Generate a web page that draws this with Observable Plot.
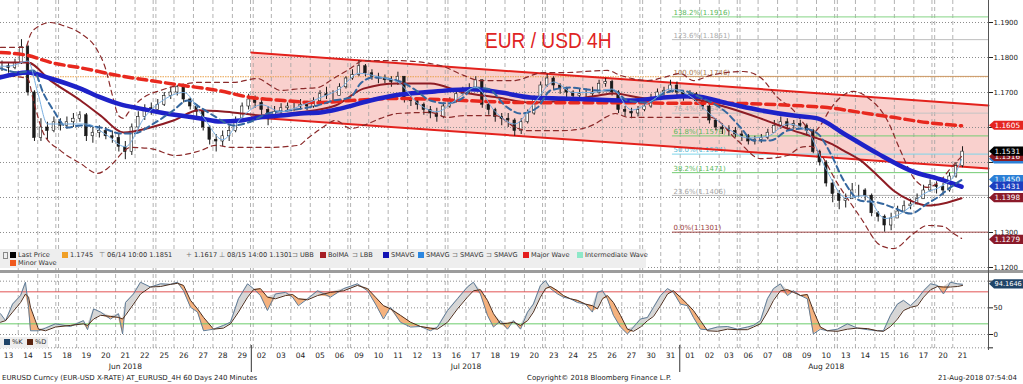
<!DOCTYPE html>
<html><head><meta charset="utf-8">
<script src="https://cdn.jsdelivr.net/npm/d3@7"></script>
<script src="https://cdn.jsdelivr.net/npm/@observablehq/plot@0.6"></script>
<style>
body{margin:0;background:#fff;}
#wrap{position:relative;width:1023px;height:384px;overflow:hidden;font-family:"DejaVu Sans",sans-serif;background:#fff;color:#222;}
.abs{position:absolute;white-space:nowrap;}
</style></head><body><div id="wrap"></div>
<script>
// ---------------- DATA ----------------
const dates = ["2018-06-13","2018-06-14","2018-06-15","2018-06-18","2018-06-19","2018-06-20","2018-06-21","2018-06-22","2018-06-25","2018-06-26","2018-06-27","2018-06-28","2018-06-29",
"2018-07-02","2018-07-03","2018-07-04","2018-07-05","2018-07-06","2018-07-09","2018-07-10","2018-07-11","2018-07-12","2018-07-13","2018-07-16","2018-07-17","2018-07-18","2018-07-19","2018-07-20","2018-07-23","2018-07-24","2018-07-25","2018-07-26","2018-07-27","2018-07-30","2018-07-31",
"2018-08-01","2018-08-02","2018-08-03","2018-08-06","2018-08-07","2018-08-08","2018-08-09","2018-08-10","2018-08-13","2018-08-14","2018-08-15","2018-08-16","2018-08-17","2018-08-20","2018-08-21"];
const monthNames = {"06":"Jun 2018","07":"Jul 2018","08":"Aug 2018"};

// 8-hour bars (3 per trading day), closes / highs / lows
const closes = [
1.1775,1.1770,1.1785, 1.1830,1.1700,1.1570, 1.1600,1.1590,1.1615, 1.1605,1.1615,1.1625, 1.1635,1.1575,1.1585,
1.1590,1.1575,1.1570, 1.1545,1.1530,1.1600, 1.1630,1.1655,1.1650, 1.1665,1.1690,1.1700, 1.1715,1.1680,1.1660,
1.1645,1.1600,1.1565, 1.1560,1.1575,1.1590, 1.1620,1.1660,1.1680, 1.1670,1.1650,1.1635, 1.1645,1.1655,1.1660,
1.1660,1.1665,1.1660, 1.1675,1.1695,1.1690, 1.1690,1.1715,1.1740, 1.1750,1.1775,1.1755, 1.1745,1.1740,1.1735,
1.1730,1.1745,1.1680, 1.1675,1.1665,1.1650, 1.1640,1.1630,1.1660, 1.1675,1.1695,1.1705, 1.1710,1.1735,1.1665,
1.1650,1.1630,1.1625, 1.1620,1.1590,1.1615, 1.1640,1.1680,1.1720, 1.1740,1.1720,1.1710, 1.1700,1.1690,1.1695,
1.1695,1.1700,1.1725, 1.1730,1.1700,1.1650, 1.1645,1.1640,1.1650, 1.1660,1.1685,1.1700, 1.1705,1.1720,1.1700,
1.1690,1.1695,1.1675, 1.1660,1.1620,1.1600, 1.1595,1.1590,1.1580, 1.1575,1.1560,1.1565, 1.1570,1.1585,1.1605,
1.1615,1.1605,1.1610, 1.1605,1.1590,1.1530, 1.1500,1.1440,1.1410, 1.1390,1.1395,1.1420, 1.1420,1.1405,1.1355,
1.1345,1.1320,1.1340, 1.1360,1.1375,1.1380, 1.1395,1.1420,1.1435, 1.1430,1.1420,1.1460, 1.1490,1.1531];
const highs = [
1.1790,1.1785,1.1795, 1.1851,1.1835,1.1705, 1.1625,1.1615,1.1630, 1.1625,1.1630,1.1640, 1.1645,1.1640,1.1600,
1.1605,1.1600,1.1590, 1.1580,1.1560,1.1610, 1.1645,1.1665,1.1670, 1.1680,1.1700,1.1715, 1.1720,1.1718,1.1685,
1.1665,1.1650,1.1605, 1.1580,1.1590,1.1605, 1.1630,1.1670,1.1695, 1.1690,1.1680,1.1660, 1.1660,1.1668,1.1670,
1.1675,1.1680,1.1675, 1.1685,1.1705,1.1715, 1.1705,1.1725,1.1745, 1.1765,1.1791,1.1780, 1.1765,1.1755,1.1750,
1.1745,1.1758,1.1745, 1.1690,1.1680,1.1670, 1.1660,1.1655,1.1670, 1.1685,1.1705,1.1715, 1.1725,1.1745,1.1735,
1.1670,1.1655,1.1640, 1.1640,1.1625,1.1625, 1.1650,1.1690,1.1730, 1.1752,1.1745,1.1725, 1.1715,1.1705,1.1710,
1.1710,1.1715,1.1735, 1.1740,1.1735,1.1705, 1.1660,1.1655,1.1660, 1.1670,1.1695,1.1710, 1.1715,1.1735,1.1730,
1.1705,1.1705,1.1700, 1.1680,1.1665,1.1625, 1.1610,1.1605,1.1600, 1.1590,1.1580,1.1575, 1.1580,1.1595,1.1620,
1.1630,1.1625,1.1620, 1.1620,1.1610,1.1595, 1.1535,1.1505,1.1450, 1.1420,1.1410,1.1440, 1.1435,1.1425,1.1410,
1.1360,1.1350,1.1355, 1.1375,1.1390,1.1395, 1.1410,1.1435,1.1450, 1.1445,1.1440,1.1470, 1.1500,1.1545];
const lows = [
1.1760,1.1755,1.1765, 1.1780,1.1690,1.1560, 1.1560,1.1565,1.1585, 1.1590,1.1595,1.1600, 1.1615,1.1560,1.1555,
1.1570,1.1565,1.1555, 1.1530,1.1508,1.1520, 1.1595,1.1620,1.1635, 1.1645,1.1660,1.1680, 1.1690,1.1670,1.1650,
1.1630,1.1590,1.1550, 1.1530,1.1545,1.1560, 1.1585,1.1615,1.1650, 1.1655,1.1635,1.1605, 1.1625,1.1635,1.1645,
1.1645,1.1650,1.1648, 1.1655,1.1670,1.1680, 1.1675,1.1690,1.1710, 1.1735,1.1745,1.1745, 1.1735,1.1725,1.1725,
1.1715,1.1720,1.1670, 1.1660,1.1650,1.1635, 1.1625,1.1615,1.1625, 1.1655,1.1670,1.1690, 1.1695,1.1705,1.1655,
1.1635,1.1615,1.1605, 1.1600,1.1575,1.1580, 1.1610,1.1635,1.1675, 1.1715,1.1705,1.1695, 1.1685,1.1675,1.1680,
1.1680,1.1685,1.1695, 1.1715,1.1690,1.1640, 1.1630,1.1625,1.1630, 1.1645,1.1655,1.1680, 1.1690,1.1700,1.1690,
1.1675,1.1680,1.1665, 1.1650,1.1610,1.1590, 1.1580,1.1575,1.1570, 1.1560,1.1550,1.1550, 1.1555,1.1565,1.1585,
1.1595,1.1590,1.1595, 1.1595,1.1575,1.1525, 1.1490,1.1430,1.1385, 1.1365,1.1370,1.1395, 1.1400,1.1390,1.1345,
1.1330,1.1301,1.1305, 1.1340,1.1355,1.1365, 1.1380,1.1395,1.1415, 1.1410,1.1405,1.1415, 1.1455,1.1485];

// indicator lines: [trading-day index, value]
const smaLong = [[-0.41,1.1814],[0.98,1.1806],[2.16,1.1786],[3.85,1.1769],[5.60,1.1749],[7.29,1.1734],[8.99,1.1720],[10.73,1.1706],[12.43,1.1686],[14.12,1.1677],[15.87,1.1671],[17.57,1.1677],[19.98,1.1683],[23.37,1.1677],[26.81,1.1671],[31.95,1.1671],[34.51,1.1669],[36.93,1.1669],[40.32,1.1663],[42.06,1.1657],[43.76,1.1643],[45.45,1.1629],[47.20,1.1614],[48.95,1.1605]];
const smaThick = [[-0.41,1.1743],[0.98,1.1757],[2.16,1.1740],[3.70,1.1711],[4.73,1.1686],[5.75,1.1666],[6.78,1.1654],[7.81,1.1643],[8.83,1.1634],[9.86,1.1626],[10.89,1.1617],[11.92,1.1620],[12.94,1.1629],[13.97,1.1634],[15.00,1.1640],[16.02,1.1643],[17.05,1.1654],[18.59,1.1677],[20.13,1.1694],[21.9,1.1703],[23.73,1.1709],[25.3,1.1700],[26.81,1.1686],[28.50,1.1683],[31.95,1.1677],[33.64,1.1686],[35.18,1.1689],[36.93,1.1669],[38.62,1.1649],[40.32,1.1634],[41.55,1.1626],[42.89,1.1583],[44.63,1.1526],[46.33,1.1477],[48.02,1.1449],[48.95,1.1431]];
const smaDashed = [[-0.41,1.1769],[0.62,1.1757],[1.28,1.1763],[1.80,1.1697],[2.31,1.1649],[3.03,1.1600],[3.70,1.1606],[4.73,1.1600],[5.75,1.1583],[6.42,1.1583],[7.45,1.1611],[8.47,1.1649],[9.19,1.1677],[9.86,1.1657],[10.53,1.1634],[11.56,1.1606],[12.58,1.1620],[13.30,1.1640],[14.48,1.1649],[15.87,1.1663],[16.69,1.1677],[17.57,1.1686],[18.08,1.1726],[18.75,1.1743],[19.98,1.1734],[20.80,1.1711],[21.67,1.1677],[22.55,1.1669],[23.37,1.1686],[23.88,1.1714],[24.60,1.1711],[25.63,1.1657],[26.30,1.1640],[27.17,1.1657],[27.84,1.1706],[28.86,1.1714],[30.25,1.1706],[31.07,1.1706],[31.79,1.1677],[32.82,1.1671],[33.64,1.1697],[34.51,1.1706],[35.54,1.1686],[36.93,1.1640],[37.60,1.1600],[38.26,1.1563],[39.14,1.1563],[40.01,1.1591],[40.83,1.1597],[41.55,1.1583],[42.22,1.1526],[42.89,1.1449],[43.76,1.1391],[44.63,1.1386],[45.45,1.1371],[46.33,1.1354],[47.20,1.1383],[47.71,1.1400],[48.38,1.1429],[48.95,1.1450]];
const smaShort = [[-0.41,1.1775],[0,1.1775],[1,1.1790],[1.5,1.1700],[2,1.1610],[3,1.1610],[4,1.1610],[5,1.1580],[6,1.1545],[7,1.1630],[8,1.1680],[9,1.1700],[10,1.1630],[11,1.1565],[12,1.1630],[13,1.1665],[14,1.1645],[15,1.1662],[16,1.1685],[17,1.1710],[18,1.1755],[19,1.1745],[20,1.1730],[21,1.1670],[22,1.1645],[23,1.1680],[24,1.1715],[25,1.1645],[26,1.1610],[27,1.1670],[28,1.1730],[29,1.1700],[30,1.1700],[31,1.1710],[32,1.1650],[33,1.1675],[34,1.1710],[35,1.1690],[36,1.1640],[37,1.1595],[38,1.1570],[39,1.1575],[40,1.1610],[41,1.1590],[42,1.1480],[43,1.1400],[44,1.1405],[45,1.1340],[46,1.1360],[47,1.1410],[48,1.1435],[48.6,1.1465],[48.95,1.1509]];
const bolMA = [[-0.41,1.1786],[0.98,1.1786],[2.16,1.1734],[3.70,1.1677],[4.73,1.1634],[5.91,1.1586],[7.29,1.1600],[8.47,1.1620],[9.76,1.1649],[11.50,1.1643],[13.20,1.1634],[14.89,1.1643],[16.80,1.1663],[18.23,1.1711],[19.98,1.1726],[21.67,1.1726],[23.37,1.1700],[25.12,1.1686],[26.81,1.1671],[28.50,1.1677],[30.25,1.1691],[31.07,1.1697],[32.82,1.1683],[34.51,1.1691],[35.18,1.1683],[36.93,1.1657],[38.62,1.1626],[40.32,1.1591],[41.55,1.1569],[42.24,1.1554],[42.89,1.1534],[43.76,1.1506],[44.63,1.1463],[45.45,1.1420],[46.33,1.1391],[47.20,1.1377],[48.02,1.1383],[48.95,1.1398]];
const bbUpper = [[-0.41,1.1829],[0.87,1.1829],[1.13,1.1866],[1.54,1.1889],[2.16,1.1900],[2.82,1.1891],[3.70,1.1869],[4.57,1.1820],[4.98,1.1769],[5.34,1.1691],[5.65,1.1634],[5.91,1.1626],[6.16,1.1643],[6.52,1.1666],[7.03,1.1689],[7.81,1.1706],[8.68,1.1720],[9.86,1.1729],[11.56,1.1729],[12.79,1.1740],[13.45,1.1720],[13.97,1.1706],[15.00,1.1711],[15.87,1.1714],[16.69,1.1740],[17.57,1.1769],[18.23,1.1791],[19.98,1.1791],[22.19,1.1777],[23.37,1.1749],[24.24,1.1734],[25.94,1.1734],[27.48,1.1757],[28.50,1.1757],[30.76,1.1763],[31.43,1.1749],[32.82,1.1734],[33.64,1.1743],[34.51,1.1754],[35.18,1.1734],[36.06,1.1749],[37.75,1.1760],[38.62,1.1743],[39.50,1.1686],[40.32,1.1649],[40.93,1.1606],[41.34,1.1586],[41.70,1.1606],[42.22,1.1654],[42.73,1.1686],[43.40,1.1703],[44.12,1.1686],[45.14,1.1620],[45.81,1.1534],[46.48,1.1457],[47.20,1.1429],[47.87,1.1449],[48.38,1.1483],[48.95,1.1517]];
const bbLower = [[-0.41,1.1749],[0.98,1.1740],[1.28,1.1677],[1.80,1.1583],[2.67,1.1534],[3.70,1.1497],[4.57,1.1469],[5.08,1.1483],[5.50,1.1506],[5.86,1.1529],[6.27,1.1543],[7.29,1.1540],[8.58,1.1520],[9.86,1.1534],[10.63,1.1549],[11.50,1.1543],[13.20,1.1543],[14.89,1.1549],[15.41,1.1571],[16.13,1.1600],[16.80,1.1620],[17.57,1.1597],[18.23,1.1606],[19.11,1.1626],[19.98,1.1640],[21.67,1.1643],[22.55,1.1629],[23.37,1.1634],[25.01,1.1634],[26.04,1.1600],[26.71,1.1591],[28.45,1.1591],[29.48,1.1597],[30.15,1.1611],[30.66,1.1629],[31.17,1.1640],[31.84,1.1629],[33.74,1.1629],[36.06,1.1629],[37.44,1.1563],[38.62,1.1511],[40.01,1.1520],[40.68,1.1543],[41.19,1.1546],[41.55,1.1534],[42.58,1.1440],[43.76,1.1343],[44.79,1.1263],[45.45,1.1254],[46.48,1.1297],[47.20,1.1320],[48.02,1.1317],[48.54,1.1297],[48.95,1.1283]];

// regression channel anchors
const channelDays = [12.48, 50.334];
const channelUpper = [1.1814, 1.1663];
const channelLower = [1.1629, 1.1483];

// Fibonacci retracement (0% = 1.1301, 100% = 1.1746)
const fibStartDay = 34.1;
const fibLabels = ["138.2%(1.1916)","123.6%(1.1851)","100.0%(1.1746)","76.4%(1.1641)","61.8%(1.1576)","50.0%(1.1524)","38.2%(1.1471)","23.6%(1.1406)","0.0%(1.1301)"];
const fibValues = [1.1916,1.1851,1.1746,1.1641,1.1576,1.1524,1.1471,1.1406,1.1301];
const hLine = 1.1745;

const priceTicks = [1.12,1.13,1.14,1.15,1.16,1.17,1.18,1.19];
const priceTickLabels = ["1.1200","1.1300","","","","1.1700","1.1800","1.1900"]; // 1.14-1.16 sit under the value tags
const stochTicks = [100,50,0,-25];
const stochTickLabels = ["","50","0",""];

// right-side last-value tags
const tagValues = [1.1509,1.1516,1.1531,1.1605,1.1450,1.1431,1.1398,1.1279];
const tagLabels = ["1.1509","1.1516","1.1531","1.1605","1.1450","1.1431","1.1398","1.1279"];

// slow stochastic: [day, %K, %D]
const stoch = [[-0.41,39,23],[-0.15,26,26],[0.21,57,42],[0.62,73,60],[0.87,98,76],[1.03,51,70],[1.13,7,51],[1.54,7,10],[1.90,12,7],[2.41,20,14],[3.18,15,17],[3.85,26,20],[4.06,9,17],[4.37,48,29],[4.73,42,36],[5.24,29,34],[5.65,39,32],[5.86,1,29],[6.01,60,36],[6.42,76,57],[6.78,98,76],[7.29,89,89],[7.81,95,90],[8.32,94,94],[8.68,98,96],[8.99,82,92],[9.35,51,64],[9.71,42,48],[10.02,7,32],[10.53,10,10],[11.04,17,12],[11.40,23,20],[11.81,67,42],[12.28,95,70],[12.58,86,84],[12.94,73,86],[13.30,45,70],[13.71,76,67],[14.23,79,73],[14.59,70,75],[14.89,54,67],[15.36,67,65],[15.87,82,73],[16.54,70,79],[17.21,86,82],[17.92,95,92],[18.44,82,86],[18.85,57,70],[19.26,29,54],[19.62,51,48],[20.13,23,36],[20.65,14,23],[21.16,15,15],[21.67,7,12],[22.03,14,10],[22.55,45,23],[23.06,67,48],[23.57,89,70],[23.88,98,82],[24.24,76,84],[24.60,36,64],[24.91,14,39],[25.27,26,20],[25.63,10,21],[25.94,26,23],[26.30,10,17],[26.66,42,26],[26.96,57,42],[27.32,92,70],[27.58,101,86],[27.84,86,90],[28.20,76,82],[28.50,70,73],[28.86,67,67],[29.22,60,64],[29.63,57,57],[29.99,42,54],[30.25,79,48],[30.51,82,67],[30.76,67,73],[31.07,36,60],[31.43,14,36],[31.79,1,10],[32.10,14,6],[32.46,29,14],[32.82,32,26],[33.13,51,34],[33.49,73,54],[33.85,86,76],[34.15,79,82],[34.51,57,70],[34.87,54,57],[35.18,32,45],[35.54,10,26],[35.90,9,7],[36.41,14,6],[36.93,15,10],[37.44,10,9],[37.95,14,9],[38.26,17,14],[38.62,26,20],[38.98,67,42],[39.29,86,64],[39.65,95,82],[40.01,73,84],[40.32,82,79],[40.68,73,73],[41.03,67,75],[41.34,1,45],[41.70,10,14],[42.06,7,7],[42.58,10,6],[43.09,20,10],[43.60,12,12],[44.12,9,11],[44.63,7,7],[44.94,7,6],[45.30,36,15],[45.66,57,29],[45.97,64,45],[46.33,54,51],[46.69,67,54],[47.00,82,70],[47.36,95,84],[47.71,92,90],[48.02,76,89],[48.38,98,89],[48.74,95,90],[49.0,94.1646,92]];
const stochLast = 94.1646;

// ---------------- STYLES ----------------
const fibColors = ["#86d486","#bdbdbd","#c99a6c","#c4c4c4","#74cc74","#7fd6ea","#74cc74","#b4b4b4","#a04a4a"];
const fibTextColors = ["#5cb85c","#a9a9a9","#a87a50","#aaaaaa","#5cb85c","#55b8d2","#5cb85c","#a3a3a3","#9a3a3a"];
const tagColors = ["#2b7fd6","#8b1a22","#000000","#e52521","#2b7fd6","#1c3fbf","#8b1a2a","#8b1a2a"];
const FONT = "DejaVu Sans";
const X_DOMAIN = [-0.411, 50.334];

// ---------------- BUILD ----------------
const bars = closes.map((c, i) => {
  const d = Math.floor(i / 3), k = i % 3;
  const open = i ? closes[i - 1] : c;
  return {t: d + (k - 1) / 3, open, close: c, high: Math.max(highs[i], open, c), low: Math.min(lows[i], open, c)};
});
const toMs = s => new Date(s + "T00:00:00Z").getTime();
const vgrid = [], monthSeps = [];
for (let i = 0; i < dates.length - 1; i++) {
  const gap = (toMs(dates[i + 1]) - toMs(dates[i])) / 86400000;
  if (gap > 1) { vgrid.push(i + 0.43, i + 0.57); } else vgrid.push(i + 0.5);
  if (dates[i].slice(5, 7) !== dates[i + 1].slice(5, 7)) monthSeps.push(i + 0.5);
}
const dayLabels = dates.map((d, i) => ({t: i, label: d.slice(8)}));
const monthLabels = Object.keys(monthNames).map(m => {
  const idx = dates.map((d, i) => d.slice(5, 7) === m ? i : null).filter(v => v !== null);
  return {t: d3.mean(idx), label: monthNames[m]};
});
const channel = channelDays.map((t, i) => ({t, hi: channelUpper[i], lo: channelLower[i]}));
const fibs = fibValues.map((v, i) => ({v, label: fibLabels[i], c: fibColors[i], tc: fibTextColors[i]}));
const stochRows = stoch.map(([t, k, d]) => ({t, k, d}));
const P = () => ({x: d => d[0], y: d => d[1]});

const mainPlot = Plot.plot({
  width: 1023, height: 272, marginLeft: 0, marginRight: 35, marginTop: 0, marginBottom: 0,
  x: {domain: X_DOMAIN, axis: null},
  y: {domain: [1.118571, 1.196286], axis: null},
  color: {type: "identity"},
  style: {fontFamily: FONT, fontSize: "7px", background: "transparent"},
  marks: [
    Plot.areaY(channel, {x: "t", y1: "lo", y2: "hi", fill: "#f9d0cd"}),
    Plot.ruleY(priceTicks, {stroke: "#8c8c8c", strokeDasharray: "1,2"}),
    Plot.ruleX(vgrid, {stroke: "#a0a0a0", strokeDasharray: "4,3", strokeWidth: 0.8}),
    Plot.ruleY([hLine], {stroke: "#e8a048", strokeDasharray: "1.5,1"}),
    Plot.ruleY(fibs, {y: "v", x1: fibStartDay, x2: X_DOMAIN[1], stroke: "c", strokeWidth: 1}),
    Plot.text(fibs, {x: fibStartDay, y: "v", text: "label", fill: "tc", textAnchor: "start", dy: -4, dx: 1, fontSize: 7}),
    Plot.line(channel, {x: "t", y: "hi", stroke: "#e3211c", strokeWidth: 2}),
    Plot.line(channel, {x: "t", y: "lo", stroke: "#e3211c", strokeWidth: 2}),
    Plot.ruleX(bars, {x: "t", y1: "low", y2: "high", stroke: "#1a1a1a", strokeWidth: 1}),
    Plot.rect(bars, {x1: d => d.t - 0.065, x2: d => d.t + 0.065, y1: "open", y2: "close", fill: d => d.close >= d.open ? "#ffffff" : "#1a1a1a", stroke: "#1a1a1a", strokeWidth: 0.6}),
    Plot.line(bbUpper, {...P(), stroke: "#8b2a2a", strokeWidth: 1.2, strokeDasharray: "5,4", curve: "monotone-x"}),
    Plot.line(bbLower, {...P(), stroke: "#8b2a2a", strokeWidth: 1.2, strokeDasharray: "5,4", curve: "monotone-x"}),
    Plot.line(bolMA, {...P(), stroke: "#8e1c24", strokeWidth: 2, curve: "monotone-x"}),
    Plot.line(smaLong, {...P(), stroke: "#e8281e", strokeWidth: 3.5, strokeDasharray: "9,5", curve: "monotone-x"}),
    Plot.line(smaThick, {...P(), stroke: "#1e22c8", strokeWidth: 4.5, curve: "monotone-x"}),
    Plot.line(smaDashed, {...P(), stroke: "#35679f", strokeWidth: 2, strokeDasharray: "6,4", curve: "monotone-x"}),
    Plot.line(smaShort, {...P(), stroke: "#78aee0", strokeWidth: 1, curve: "monotone-x"}),
    Plot.axisY({anchor: "right", ticks: priceTicks, tickFormat: d => priceTickLabels[priceTicks.indexOf(d)], tickSize: 4, tickPadding: 1, fontSize: 7, label: null})
  ]
});

const stochPlot = Plot.plot({
  width: 1023, height: 100, marginLeft: 0, marginRight: 35, marginTop: 2, marginBottom: 22,
  x: {domain: X_DOMAIN, axis: null},
  y: {domain: [-30, 112.5], axis: null},
  color: {type: "identity"},
  style: {fontFamily: FONT, fontSize: "7px", background: "transparent", overflow: "visible"},
  marks: [
    Plot.ruleY(stochTicks, {stroke: "#8c8c8c", strokeDasharray: "1,2"}),
    Plot.ruleX(vgrid, {stroke: "#a0a0a0", strokeDasharray: "4,3", strokeWidth: 0.8}),
    Plot.areaY(stochRows, {x: "t", y1: "d", y2: r => Math.max(r.k, r.d), fill: "#d6d6d6"}),
    Plot.areaY(stochRows, {x: "t", y1: "d", y2: r => Math.min(r.k, r.d), fill: "#f5b27e"}),
    Plot.ruleY([80], {stroke: "#e25454", strokeWidth: 1}),
    Plot.ruleY([20], {stroke: "#6ccc6c", strokeWidth: 1}),
    Plot.line(stochRows, {x: "t", y: "k", stroke: "#5f7c98", strokeWidth: 1}),
    Plot.line(stochRows, {x: "t", y: "d", stroke: "#4b2c1c", strokeWidth: 1}),
    Plot.axisY({anchor: "right", ticks: stochTicks, tickFormat: d => stochTickLabels[stochTicks.indexOf(d)], tickSize: 4, tickPadding: 1, fontSize: 7, label: null}),
    Plot.text(dayLabels, {x: "t", text: "label", frameAnchor: "bottom", dy: 7, fontSize: 7.5, fill: "#222"}),
    Plot.text(monthLabels, {x: "t", text: "label", frameAnchor: "bottom", dy: 18.5, fontSize: 7.5, fill: "#222"})
  ]
});

const wrap = document.getElementById("wrap");
function place(el, top) { el.style.position = "absolute"; el.style.left = "0px"; el.style.top = top + "px"; wrap.appendChild(el); }
place(mainPlot, 0);
place(stochPlot, 272);

// value tags
function addTags(svg, yScale, vals, labels, colors, fs) {
  const g = d3.select(svg).append("g").attr("text-anchor", "start");
  vals.forEach((v, i) => {
    const cy = yScale.apply(v);
    g.append("path").attr("d", `M989,${cy} L994,${cy - 4.6} L1023,${cy - 4.6} L1023,${cy + 4.6} L994,${cy + 4.6} Z`).attr("fill", colors[i]);
    g.append("text").attr("x", 994.5).attr("y", cy + 2.6).attr("text-anchor", "start").attr("fill", "#fff").attr("font-size", fs + "px").attr("font-family", FONT).text(labels[i]);
  });
}
addTags(mainPlot, mainPlot.scale("y"), tagValues, tagLabels, tagColors, 7.3);
addTags(stochPlot, stochPlot.scale("y"), [stochLast], [String(stochLast)], ["#1f4468"], 6.6);

// month separators below the lower panel
const xs = stochPlot.scale("x");
monthSeps.forEach(t => {
  d3.select(stochPlot).append("line").attr("x1", xs.apply(t)).attr("x2", xs.apply(t)).attr("y1", 73).attr("y2", 100).attr("stroke", "#555").attr("stroke-width", 1.2);
});

// panel separator + right axis line
function div(css) { const d = document.createElement("div"); d.className = "abs"; d.style.cssText += css; wrap.appendChild(d); return d; }
div("left:0;top:270px;width:1023px;height:3px;background:#9c9c9c;");
div("left:988px;top:0;width:1px;height:350px;background:#555;");

// title
const title = div("left:485px;top:30px;font-family:'Liberation Sans',Arial,sans-serif;font-size:22px;line-height:22px;color:#df2424;transform:scaleX(0.87);transform-origin:0 0;");
title.textContent = "EUR / USD 4H";

// legend (main)
div("left:0;top:249px;width:646px;height:19px;background:#eeeeee;");
const legendItems = [
  {x: 10, color: "#000", text: "Last Price"},
  {x: 62, color: "#f0a028", text: "1.1745"},
  {x: 99, glyph: "⊤", text: "06/14 10:00 1.1851"},
  {x: 186, glyph: "+", text: "1.1617"},
  {x: 219, glyph: "⊥", text: "08/15 14:00 1.1301"},
  {x: 292, glyph: "⊐", text: "UBB"},
  {x: 320, color: "#a51d24", text: "BolMA"},
  {x: 352, glyph: "⊐", text: "LBB"},
  {x: 383, color: "#1414b4", text: "SMAVG"},
  {x: 418, color: "#2a86e0", text: "SMAVG"},
  {x: 452, glyph: "⊐", text: "SMAVG"},
  {x: 486, glyph: "⊐", text: "SMAVG"},
  {x: 523, color: "#e41e1e", text: "Major Wave"},
  {x: 577, color: "#8ee8c8", text: "Intermediate Wave"}
];
function legendRow(items, cy) {
  items.forEach(it => {
    if (it.color) { div(`left:${it.x}px;top:${cy - 3}px;width:6px;height:6px;background:${it.color};`); }
    else { const g = div(`left:${it.x}px;top:${cy - 5}px;font-size:7px;line-height:10px;color:#777;`); g.textContent = it.glyph; }
    const t = div(`left:${it.x + 8}px;top:${cy - 5}px;font-size:6.6px;line-height:10px;color:#333;`); t.textContent = it.text;
  });
}
div("left:3px;top:252px;width:3px;height:5px;border:1px solid #888;");
legendRow(legendItems, 255);
legendRow([{x: 10, color: "#f05a1e", text: "Minor Wave"}], 263);

// legend (stochastic)
div("left:0;top:337px;width:48px;height:11px;background:#eeeeee;");
legendRow([{x: 4, color: "#1f4468", text: "%K"}, {x: 27, color: "#5a2410", text: "%D"}], 342);

// footer
const f1 = div("left:2px;top:373px;font-size:7px;line-height:10px;color:#222;"); f1.textContent = "EURUSD Curncy (EUR-USD X-RATE) AT_EURUSD_4H 60 Days 240 Minutes";
const f2 = div("left:527px;top:373px;font-size:7px;line-height:10px;color:#222;"); f2.textContent = "Copyright© 2018 Bloomberg Finance L.P.";
const f3 = div("left:938px;top:373px;font-size:7px;line-height:10px;color:#222;"); f3.textContent = "21-Aug-2018 07:54:04";
</script></body></html>
